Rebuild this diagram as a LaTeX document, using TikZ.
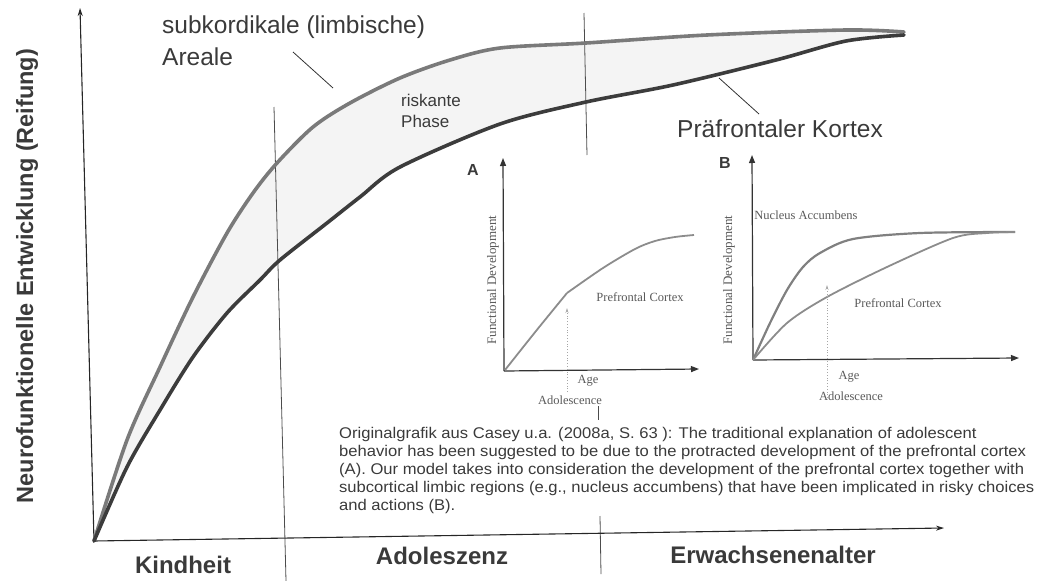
\documentclass[tikz,border=0pt]{standalone}
\usepackage{fontspec}
\setmainfont{Liberation Sans}
\newfontfamily\inserif{Liberation Serif}
\newfontfamily\capfont[FakeStretch=1.07]{Liberation Sans}
\usetikzlibrary{arrows.meta}
\definecolor{txt}{HTML}{3A3A3A}
\definecolor{limb}{HTML}{7A7A7A}
\definecolor{pfcc}{HTML}{3C3C3C}
\definecolor{inset}{HTML}{8C8C8C}
\definecolor{intxt}{HTML}{5A5A5A}
\tikzset{
  mainaxis/.style={line width=1.1pt, draw=black!85, -{Stealth[length=8pt,width=5pt]}},
  limbic/.style={line width=3.6pt, draw=limb, line cap=round},
  pfc/.style={line width=3.6pt, draw=pfcc, line cap=round},
  divider/.style={line width=0.8pt, draw=black!70},
  pointer/.style={line width=0.8pt, draw=black!80},
  inaxis/.style={line width=1.2pt, draw=black!80, -{Triangle[length=8pt,width=6pt]}},
  incurve/.style={line width=1.8pt, draw=inset},
  inarrow/.style={line width=0.8pt, draw=black!35, dotted, -{Stealth[length=5pt,width=3pt]}},
  inlabel/.style={font=\inserif\fontsize{12.5}{14}\selectfont, text=intxt, inner sep=0pt},
  bigtxt/.style={font=\fontsize{24.5}{28}\selectfont, text=txt, inner sep=0pt, anchor=west},
  phasetxt/.style={font=\bfseries\fontsize{24}{28}\selectfont, text=txt, inner sep=0pt},
  letter/.style={font=\bfseries\fontsize{16}{18}\selectfont, text=txt, inner sep=0pt},
}
\begin{document}
\begin{tikzpicture}[x=1pt,y=-1pt]
\useasboundingbox (0,0) rectangle (1039,581);
% ---------- main axes ----------
\coordinate (O) at (94,541);
\coordinate (Ytop) at (80,8);
\coordinate (Xend) at (944,528);
% shaded risky zone
\fill[gray!9] plot[smooth] coordinates {(94,541) (127,440) (160,367) (193,297) (227,233) (253,193) (277,163) (313,127) (350,103) (400,78) (450,60) (500,48) (586,43) (707,35) (846,30) (904,32)}
  -- plot[smooth] coordinates {(904,35) (846,41) (776,60) (673,85) (586,102) (500,124) (400,167) (360,197) (327,223) (280,260) (260,280) (227,313) (193,357) (160,410) (127,467) (94,541)} -- cycle;
% dividers
\coordinate (D1a) at (274,107);
\coordinate (D1b) at (286,581);
\draw[divider] (D1a) -- (D1b);
\coordinate (D2a) at (584,13);
\coordinate (D2b) at (587,155);
\draw[divider] (D2a) -- (D2b);
\coordinate (D2c) at (598,406);
\coordinate (D2d) at (598,420);
\draw[divider] (D2c) -- (D2d);
\coordinate (D2e) at (600,516);
\coordinate (D2f) at (601,574);
\draw[divider] (D2e) -- (D2f);
\draw[mainaxis] (O) -- (Ytop);
\draw[mainaxis] (O) -- (Xend);
% curves
\draw[limbic] plot[smooth] coordinates {(94,541) (127,440) (160,367) (193,297) (227,233) (253,193) (277,163) (313,127) (350,103) (400,78) (450,60) (500,48) (586,43) (707,35) (846,30) (904,32)};
\draw[pfc] plot[smooth] coordinates {(94,541) (127,467) (160,410) (193,357) (227,313) (260,280) (280,260) (327,223) (360,197) (400,167) (500,124) (586,102) (673,85) (776,60) (846,41) (904,35)};
% labels main
\node[bigtxt] (sub) at (162,27) {subkordikale (limbische)};
\node[bigtxt] (are) at (162,57) {Areale};
\coordinate (subtip) at (333,88);
\coordinate (subfrom) at (293,52);
\draw[pointer] (subfrom) -- (subtip);
\node[font=\fontsize{17}{20}\selectfont, text=txt, inner sep=0pt, anchor=west] (ris) at (401,100) {riskante};
\node[font=\fontsize{17}{20}\selectfont, text=txt, inner sep=0pt, anchor=west] (pha) at (401,121) {Phase};
\node[bigtxt] (pfk) at (677,129) {Präfrontaler Kortex};
\coordinate (pfktip) at (719,78);
\coordinate (pfkfrom) at (759,114);
\draw[pointer] (pfkfrom) -- (pfktip);
\node[font=\bfseries\fontsize{23.5}{26}\selectfont, text=txt, rotate=90, inner sep=0pt] (ylab) at (27,276) {Neurofunktionelle Entwicklung (Reifung)};
\node[phasetxt] (kin) at (183,565) {Kindheit};
\node[phasetxt] (ado) at (442,556) {Adoleszenz};
\node[phasetxt] (erw) at (773,555) {Erwachsenenalter};
% ---------- inset A ----------
\coordinate (AO) at (504,371);
\coordinate (AY) at (503,158);
\coordinate (AX) at (699,369);
\draw[inaxis] (AO) -- (AY);
\draw[inaxis] (AO) -- (AX);
\node[letter] (A) at (473,170) {A};
\draw[incurve] plot[smooth] coordinates {(505,370) (536,331) (567,293)} ;
\draw[incurve] plot[smooth] coordinates {(567,293) (603,268) (635,249) (655,241) (675,237) (694,235)};
\node[inlabel, rotate=90, font=\inserif\fontsize{13}{15}\selectfont] (Afd) at (493,280) {Functional Development};
\node[inlabel] (Apc) at (640,297) {Prefrontal Cortex};
\node[inlabel] (Aage) at (588,381) {Age};
\node[inlabel] (Aado) at (570,400) {Adolescence};
\coordinate (Aarr) at (567,308);
\coordinate (Abase) at (567,392);
\draw[inarrow] (Abase) -- (Aarr);
% ---------- inset B ----------
\coordinate (BO) at (753,360);
\coordinate (BY) at (752,155);
\coordinate (BX) at (1019,358);
\draw[inaxis] (BO) -- (BY);
\draw[inaxis] (BO) -- (BX);
\node[letter] (B) at (725,163) {B};
\draw[incurve, line width=2.2pt, draw=black!50] plot[smooth] coordinates {(753,360) (770,323) (787,290) (803,267) (820,253) (853,239) (920,233) (1015,232)};
\draw[incurve] plot[smooth] coordinates {(753,360) (787,323) (827,297) (887,267) (953,238) (987,233) (1015,232)};
\node[inlabel, rotate=90, font=\inserif\fontsize{13}{15}\selectfont] (Bfd) at (729,280) {Functional Development};
\node[inlabel] (Bna) at (806,215) {Nucleus Accumbens};
\node[inlabel] (Bpc) at (898,303) {Prefrontal Cortex};
\node[inlabel] (Bage) at (849,377) {Age};
\node[inlabel] (Bado) at (851,396) {Adolescence};
\coordinate (Barr) at (827,285);
\coordinate (Bbase) at (827,398);
\draw[inarrow] (Bbase) -- (Barr);
% ---------- caption ----------
\node[anchor=north west, inner sep=0pt, align=left, text=txt, font=\capfont\fontsize{15.5}{18}\selectfont] (cap) at (339,427)
{Originalgrafik aus Casey u.a. (2008a, S. 63 ): The traditional explanation of adolescent\\
behavior has been suggested to be due to the protracted development of the prefrontal cortex\\
(A). Our model takes into consideration the development of the prefrontal cortex together with\\
subcortical limbic regions (e.g., nucleus accumbens) that have been implicated in risky choices\\
and actions (B).};
\end{tikzpicture}
\end{document}
